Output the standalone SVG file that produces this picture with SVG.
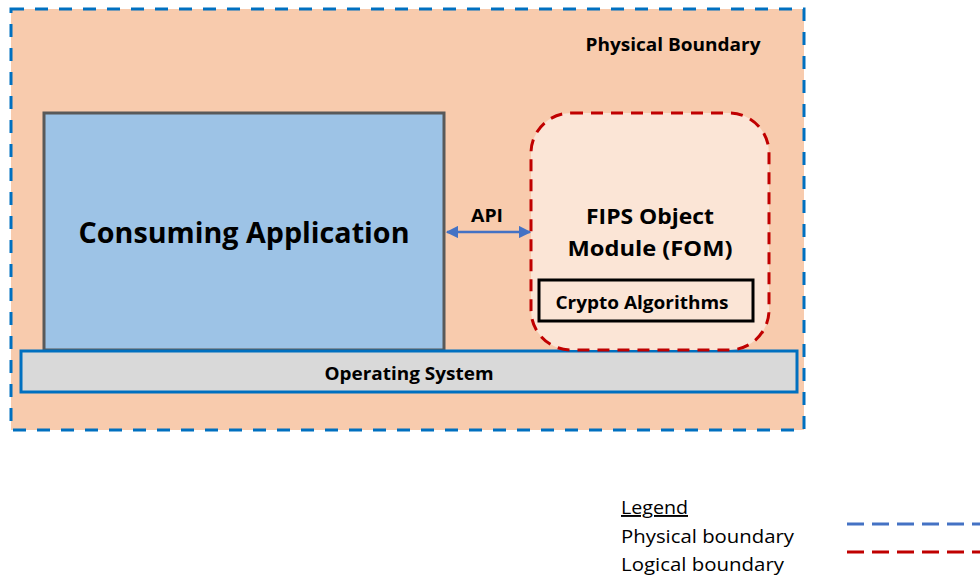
<svg xmlns="http://www.w3.org/2000/svg" width="980" height="576" viewBox="0 0 980 576">
<defs>
<style>
.b{font-family:"Open Sans","Liberation Sans",sans-serif;font-weight:bold;fill:#000;text-anchor:middle}
.r{font-family:"Open Sans","Liberation Sans",sans-serif;fill:#000}
</style>
<marker id="ah" viewBox="0 0 10 10" refX="9" refY="5" markerWidth="5" markerHeight="5" orient="auto-start-reverse"><path d="M0,0 L10,5 L0,10 z" fill="#4472C4"/></marker>
</defs>
<rect width="980" height="576" fill="#fff"/>
<g id="physical-boundary">
<rect x="11" y="9" width="793" height="421" fill="#F8CBAD" stroke="#0070C0" stroke-width="3" stroke-dasharray="13 11"/>
<text class="b" x="673" y="51" font-size="18" textLength="175" lengthAdjust="spacingAndGlyphs">Physical Boundary</text>
</g>
<g id="consuming-application">
<rect x="44" y="113" width="400" height="237" fill="#9DC3E6" stroke="#595959" stroke-width="3"/>
<text class="b" x="244" y="243" font-size="28" textLength="331" lengthAdjust="spacingAndGlyphs">Consuming Application</text>
</g>
<g id="operating-system">
<rect x="21" y="351" width="776" height="41" fill="#D9D9D9" stroke="#0070C0" stroke-width="3"/>
<text class="b" x="409" y="380" font-size="18" textLength="169" lengthAdjust="spacingAndGlyphs">Operating System</text>
</g>
<g id="fom">
<rect x="531" y="113" width="238" height="237" rx="40" ry="40" fill="#FBE5D6" stroke="#C00000" stroke-width="3" stroke-dasharray="12 8"/>
<text class="b" x="650" y="224" font-size="22" textLength="128" lengthAdjust="spacingAndGlyphs">FIPS Object</text>
<text class="b" x="650" y="256" font-size="22" textLength="165" lengthAdjust="spacingAndGlyphs">Module (FOM)</text>
</g>
<g id="crypto-algorithms">
<rect x="539" y="280" width="214" height="41" fill="none" stroke="#000" stroke-width="3"/>
<text class="b" x="642" y="309" font-size="18" textLength="173" lengthAdjust="spacingAndGlyphs">Crypto Algorithms</text>
</g>
<g id="connectors">
<line x1="447" y1="232" x2="530" y2="232" stroke="#4472C4" stroke-width="2.5" marker-start="url(#ah)" marker-end="url(#ah)"/>
<text class="b" x="487" y="222" font-size="18" textLength="32" lengthAdjust="spacingAndGlyphs">API</text>
</g>
<g id="legend">
<text class="r" x="621" y="514" font-size="19" text-decoration="underline" textLength="67" lengthAdjust="spacingAndGlyphs">Legend</text>
<text class="r" x="621" y="543" font-size="19" textLength="173" lengthAdjust="spacingAndGlyphs">Physical boundary</text>
<text class="r" x="621" y="571" font-size="19" textLength="163" lengthAdjust="spacingAndGlyphs">Logical boundary</text>
<line x1="847" y1="524" x2="980" y2="524" stroke="#4472C4" stroke-width="3" stroke-dasharray="17 8"/>
<line x1="847" y1="552" x2="980" y2="552" stroke="#C00000" stroke-width="3" stroke-dasharray="17 8"/>
</g>
</svg>
